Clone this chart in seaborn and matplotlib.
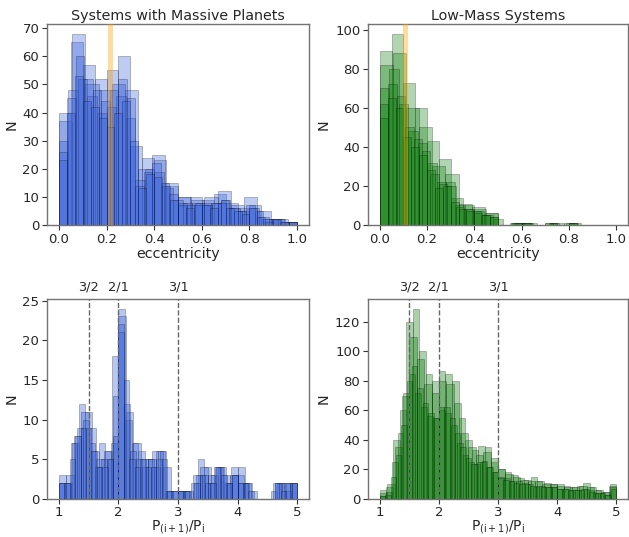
import numpy as np
import pandas as pd
import matplotlib
matplotlib.use("Agg")
import matplotlib.pyplot as plt
import matplotlib.colors as mcolors
import matplotlib.transforms as mtransforms
import seaborn as sns

sns.set_style("ticks")
plt.rcParams['font.family'] = ['DejaVu Sans']

# ---------------- data: histogram realizations (bin count, counts) -------------
ecc_range = (0.0, 1.0)
per_range = (1.0, 5.0)

ecc_massive_25 = [30, 48, 52, 46, 40, 42, 46, 38, 16, 20, 19, 13, 9, 8, 8, 8, 8, 9, 6, 5, 6, 3, 2, 2, 1]
ecc_massive_20 = [40, 65, 57, 52, 55, 60, 28, 24, 23, 14, 10, 10, 9, 11, 8, 6, 7, 2, 2, 1]
ecc_massive_30 = [23, 40, 53, 44, 42, 38, 35, 40, 44, 30, 13, 18, 17, 14, 9, 7, 6, 7, 7, 6, 8, 6, 5, 4, 6, 3, 1, 2, 1, 1]
ecc_massive_18 = [37, 68, 50, 48, 50, 48, 20, 25, 15, 10, 9, 10, 12, 7, 10, 5, 2, 1]
ecc_massive_28 = [26, 45, 60, 52, 48, 44, 48, 52, 45, 14, 19, 22, 15, 11, 8, 7, 8, 7, 8, 9, 6, 5, 7, 5, 2, 2, 1, 1]

ecc_low_25 = [70, 80, 62, 48, 42, 32, 22, 22, 10, 8, 7, 5, 3, 0, 1, 1, 0, 0, 1, 0, 1, 0, 0, 0, 0]
ecc_low_20 = [89, 98, 73, 60, 43, 34, 14, 10, 8, 6, 0, 1, 1, 0, 1, 0, 1, 0, 0, 0]
ecc_low_30 = [55, 65, 60, 45, 40, 36, 28, 19, 20, 12, 8, 7, 6, 5, 4, 0, 0, 1, 1, 0, 0, 1, 0, 0, 1, 0, 0, 0, 0, 0]
ecc_low_18 = [82, 88, 60, 50, 30, 26, 11, 9, 6, 0, 1, 1, 0, 1, 1, 0, 0, 0]
ecc_low_28 = [62, 72, 66, 50, 44, 38, 26, 21, 20, 9, 8, 7, 5, 4, 0, 0, 1, 1, 0, 0, 1, 0, 1, 0, 0, 0, 0, 0]

per_massive_40 = [2, 2, 7, 9, 10, 7, 4, 5, 5, 13, 21, 12, 6, 5, 4, 5, 4, 6, 1, 1,
                  1, 1, 0, 3, 3, 2, 4, 4, 2, 3, 2, 2, 0, 0, 0, 0, 2, 2, 1, 2]
per_massive_36 = [3, 2, 7, 12, 11, 6, 7, 6, 18, 24, 10, 7, 6, 5, 6, 6, 1, 1,
                  1, 1, 2, 5, 4, 3, 4, 2, 4, 3, 2, 1, 0, 0, 1, 2, 2, 2]
per_massive_44 = [2, 2, 5, 8, 9, 9, 6, 4, 4, 5, 8, 22, 15, 5, 4, 5, 4, 4, 5, 5, 1, 0,
                  1, 1, 0, 2, 3, 2, 2, 4, 3, 2, 3, 2, 2, 1, 0, 0, 0, 0, 2, 1, 2, 2]
per_massive_32 = [2, 3, 8, 11, 9, 5, 6, 7, 23, 11, 7, 5, 5, 6, 4, 1,
                  1, 1, 3, 4, 3, 4, 3, 3, 4, 2, 0, 0, 0, 2, 2, 2]

per_low_40 = [2, 5, 25, 45, 72, 85, 72, 62, 56, 55, 60, 58, 50, 38, 30, 25, 24, 25, 22, 18,
              15, 14, 12, 12, 11, 10, 8, 9, 8, 8, 7, 7, 6, 6, 7, 6, 4, 4, 3, 8]
per_low_36 = [6, 8, 40, 60, 120, 129, 100, 85, 80, 87, 85, 80, 55, 40, 33, 36, 35, 25,
              20, 18, 16, 14, 13, 15, 12, 11, 10, 10, 9, 8, 9, 11, 8, 6, 5, 10]
per_low_44 = [2, 3, 15, 30, 50, 80, 90, 75, 65, 58, 55, 62, 62, 55, 45, 35, 28, 24, 25, 26, 22, 18,
              14, 13, 12, 11, 10, 10, 9, 9, 8, 8, 8, 7, 7, 6, 6, 6, 7, 5, 4, 4, 3, 7]
per_low_32 = [4, 10, 35, 70, 110, 95, 78, 72, 80, 78, 65, 45, 35, 30, 32, 28,
              20, 17, 15, 13, 12, 12, 10, 10, 9, 8, 8, 9, 8, 6, 5, 9]

ecc_median_massive = 0.215
ecc_median_low = 0.11
resonances = [1.5, 2.0, 3.0]
resonance_labels = ["3/2", "2/1", "3/1"]

titles = ["Systems with Massive Planets", "Low-Mass Systems"]
blue = "#3560dc"
green = "#0d7e0d"

# ---------------- figure ------------------
fig = plt.figure(figsize=(6.29, 5.37), dpi=100)
W, H = 629, 537
def add_ax(l, t, r, b):
    return fig.add_axes([l / W, 1 - b / H, (r - l) / W, (b - t) / H])

ax_tl = add_ax(47, 24, 309, 225)
ax_tr = add_ax(368, 24, 628, 225)
ax_bl = add_ax(47, 299, 309, 499)
ax_br = add_ax(368, 299, 628, 499)

def draw_layers(ax, layers, rng, color, alpha, edge_alpha=0.25):
    rgb = mcolors.to_rgb(color)
    for counts in layers:
        n = len(counts)
        width = (rng[1] - rng[0]) / n
        df = pd.DataFrame({"x": rng[0] + width * (np.arange(n) + 0.5),
                           "w": np.asarray(counts, dtype=float)})
        n0 = len(ax.patches)
        sns.histplot(data=df, x="x", weights="w", bins=n, binrange=rng, ax=ax,
                     color=color, alpha=alpha, edgecolor="black", linewidth=0.7)
        for p in ax.patches[n0:]:
            p.set_alpha(None)
            p.set_facecolor((*rgb, alpha))
            p.set_edgecolor((0, 0, 0, edge_alpha))

draw_layers(ax_tl, [ecc_massive_20, ecc_massive_18, ecc_massive_25, ecc_massive_28, ecc_massive_30],
            ecc_range, blue, 0.32)
draw_layers(ax_tr, [ecc_low_20, ecc_low_18, ecc_low_25, ecc_low_28, ecc_low_30],
            ecc_range, green, 0.32)
draw_layers(ax_bl, [per_massive_36, per_massive_32, per_massive_40, per_massive_44],
            per_range, blue, 0.35)
draw_layers(ax_br, [per_low_36, per_low_32, per_low_40, per_low_44],
            per_range, green, 0.35)

ax_tl.axvspan(ecc_median_massive - 0.01, ecc_median_massive + 0.01, color="orange", alpha=0.38, zorder=5, lw=0)
ax_tr.axvspan(ecc_median_low - 0.01, ecc_median_low + 0.01, color="orange", alpha=0.38, zorder=5, lw=0)

for ax, title in zip([ax_tl, ax_tr], titles):
    ax.set_title(title, fontsize=10.3, pad=3)
    ax.set_xlabel("eccentricity", fontsize=10.3, labelpad=1)
    ax.set_xlim(-0.05, 1.05)

ax_tl.set_ylim(0, 71.5)
ax_tl.set_yticks(np.arange(0, 71, 10))
ax_tr.set_ylim(0, 103)
ax_tr.set_yticks(np.arange(0, 101, 20))
ax_bl.set_ylim(0, 25.2)
ax_bl.set_yticks(np.arange(0, 26, 5))
ax_br.set_ylim(0, 135.5)
ax_br.set_yticks(np.arange(0, 121, 20))

for ax in [ax_tl, ax_tr, ax_bl, ax_br]:
    ax.set_ylabel("N", fontsize=10.3, labelpad=3)
    ax.tick_params(labelsize=9.5, length=3.5, pad=2, color="0.2")
    for s in ax.spines.values():
        s.set_visible(True)
        s.set_color("0.45")
        s.set_linewidth(1.0)

for ax in [ax_bl, ax_br]:
    ax.set_xlim(0.8, 5.2)
    ax.set_xticks([1, 2, 3, 4, 5])
    ax.tick_params(axis="x", pad=1.5)
    ax.set_xlabel(r"$\mathrm{P_{(i+1)}/P_i}$", fontsize=10, labelpad=-0.5)
    trans = mtransforms.blended_transform_factory(ax.transData, ax.transAxes)
    for r, lab in zip(resonances, resonance_labels):
        ax.axvline(r, color="0.4", ls="--", lw=1, zorder=6)
        ax.text(r, 1.025, lab, transform=trans, ha="center", va="bottom", fontsize=9.3)

fig.savefig("out.png", dpi=100)
